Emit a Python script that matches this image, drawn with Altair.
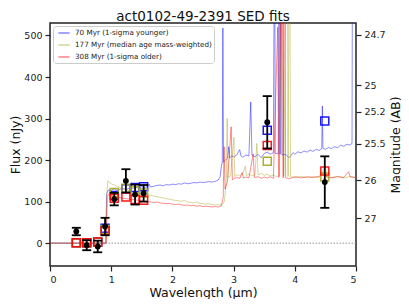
import altair as alt
import pandas as pd

# ---------------- data ----------------
filter_wave = [0.43, 0.60, 0.78, 0.90, 1.05, 1.24, 1.39, 1.53, 3.55, 4.49]
obs_flux = [28, -5, -8, 40, 106, 150, 117, 120, 291, 147]
obs_err = [9, 12, 14, 21, 15, 28, 24, 20, 63, 62]

model_names = ["\u00a070 Myr (1-sigma younger)",
               "177 Myr (median age mass-weighted)",
               "308 Myr (1-sigma older)"]
model_colors = ["#0000ff", "#a6a61e", "#ff0000"]

phot_young = [1, 1, 3, 36, 115, 131, 134, 136, 272, 294]
phot_median = [1, 1, 3, 33, 122, 132, 126, 121, 197, 159]
phot_old = [1, 1, 3, 30, 108, 111, 105, 103, 235, 174]

spec_young_wave = [0.00, 0.91, 0.925, 0.95, 1.00, 1.05, 1.10, 1.15, 1.20, 1.25, 1.30, 1.35,
                   1.40, 1.45, 1.50, 1.55, 1.60, 1.62, 1.64, 1.70, 1.75, 1.80, 1.85, 1.90,
                   1.95, 2.00, 2.05, 2.10, 2.15, 2.20, 2.25, 2.30, 2.35, 2.40, 2.45, 2.50,
                   2.55, 2.60, 2.65, 2.70, 2.75, 2.78, 2.80, 2.815, 2.825, 2.835, 2.87, 2.90,
                   2.92, 2.935, 2.97, 3.00, 3.05, 3.10, 3.12, 3.15, 3.20, 3.25, 3.28, 3.30,
                   3.35, 3.40, 3.45, 3.50, 3.55, 3.60, 3.65, 3.67, 3.68, 3.73, 3.745, 3.76,
                   3.775, 3.79, 3.85, 3.90, 3.93, 3.97, 4.00, 4.05, 4.10, 4.15, 4.20, 4.25,
                   4.30, 4.35, 4.40, 4.44, 4.45, 4.46, 4.50, 4.55, 4.60, 4.65, 4.70, 4.75,
                   4.80, 4.85, 4.90, 4.935, 4.945]
spec_young_flux = [0, 0, 118, 128, 127, 131, 126, 130, 131, 129, 133, 132,
                   134, 133, 136, 134, 137, 142, 135, 137, 139, 140, 138, 141,
                   140, 142, 141, 143, 142, 145, 143, 144, 146, 145, 147, 146,
                   147, 148, 147, 149, 152, 160, 185, 195, 518, 195, 200, 205,
                   232, 205, 210, 208, 212, 225, 210, 207, 212, 210, 340, 212,
                   208, 214, 206, 216, 219, 214, 218, 900, 216, 215, 900, 214,
                   900, 212, 214, 206, 209, 218, 214, 220, 217, 222, 219, 224,
                   221, 226, 223, 228, 330, 228, 226, 230, 228, 232, 230, 236,
                   233, 238, 236, 240, 900]

spec_median_wave = [0.00, 0.915, 0.93, 0.945, 0.97, 1.00, 1.05, 1.10, 1.15, 1.20, 1.25, 1.30,
                    1.35, 1.40, 1.45, 1.50, 1.55, 1.60, 1.65, 1.70, 1.75, 1.80, 1.85, 1.90,
                    1.95, 2.00, 2.05, 2.10, 2.15, 2.20, 2.25, 2.30, 2.35, 2.40, 2.45, 2.50,
                    2.55, 2.60, 2.65, 2.70, 2.75, 2.80, 2.85, 2.88, 2.895, 2.91, 2.95, 3.005,
                    3.02, 3.05, 3.10, 3.15, 3.19, 3.21, 3.25, 3.30, 3.35, 3.38, 3.40, 3.45,
                    3.50, 3.55, 3.60, 3.65, 3.70, 3.75, 3.80, 3.82, 3.875, 3.89, 3.915, 3.93,
                    4.00, 4.10, 4.20, 4.30, 4.40, 4.50, 4.52, 4.60, 4.70, 4.80, 4.90, 5.00]
spec_median_flux = [0, 0, 120, 150, 146, 143, 140, 136, 133, 130, 128, 126,
                    124, 123, 121, 120, 118, 117, 115, 113, 112, 110, 109, 107,
                    106, 104, 103, 102, 101, 103, 99, 98, 97, 99, 96, 95,
                    94, 95, 93, 92, 93, 92, 100, 150, 300, 158, 162, 255,
                    160, 165, 162, 168, 185, 163, 166, 162, 165, 240, 164, 168,
                    163, 166, 162, 164, 160, 163, 900, 162, 900, 160, 900, 160,
                    158, 161, 157, 160, 158, 185, 160, 158, 161, 157, 160, 158]

spec_old_wave = [0.00, 0.92, 0.935, 0.96, 1.00, 1.05, 1.10, 1.15, 1.20, 1.25, 1.30, 1.35,
                 1.40, 1.45, 1.50, 1.55, 1.60, 1.65, 1.70, 1.75, 1.80, 1.85, 1.90, 1.95,
                 2.00, 2.05, 2.10, 2.15, 2.20, 2.25, 2.30, 2.35, 2.40, 2.45, 2.50, 2.55,
                 2.60, 2.65, 2.70, 2.75, 2.80, 2.83, 2.845, 2.86, 2.90, 2.96, 2.98, 3.00,
                 3.05, 3.10, 3.14, 3.16, 3.20, 3.25, 3.32, 3.34, 3.40, 3.45, 3.50, 3.55,
                 3.60, 3.65, 3.72, 3.74, 3.795, 3.81, 3.83, 3.85, 3.90, 3.95, 4.00, 4.10,
                 4.20, 4.30, 4.40, 4.49, 4.51, 4.60, 4.70, 4.80, 4.88, 4.90, 5.00]
spec_old_flux = [0, 0, 112, 118, 115, 113, 111, 110, 108, 107, 106, 105,
                 104, 103, 102, 101, 100, 99, 98, 99, 97, 96, 95, 96,
                 94, 93, 94, 92, 91, 92, 90, 91, 89, 90, 88, 89,
                 88, 87, 88, 87, 90, 110, 232, 130, 148, 280, 152, 155,
                 158, 156, 170, 157, 159, 157, 215, 158, 160, 156, 159, 157,
                 160, 156, 520, 158, 900, 157, 900, 158, 155, 157, 160, 157,
                 160, 158, 161, 172, 160, 157, 160, 158, 172, 160, 158]

mag_ticks = [24.7, 25, 25.2, 25.5, 26, 27]
ZP = 31.45  # AB zero point used for the nJy axis
chart_title = "act0102-49-2391 SED fits"

# ---------------- tables ----------------
spec_rows = []
for name, wv, fl in zip(model_names,
                        [spec_young_wave, spec_median_wave, spec_old_wave],
                        [spec_young_flux, spec_median_flux, spec_old_flux]):
    for i, (w, f) in enumerate(zip(wv, fl)):
        spec_rows.append({"model": name, "wave": w, "flux": f, "i": i})
spec_df = pd.DataFrame(spec_rows)

phot_rows = []
for name, vals in zip(model_names, [phot_young, phot_median, phot_old]):
    for w, f in zip(filter_wave, vals):
        phot_rows.append({"model": name, "wave": w, "flux": f})
phot_df = pd.DataFrame(phot_rows)

obs_df = pd.DataFrame({"wave": filter_wave, "flux": obs_flux, "err": obs_err})
zero_df = pd.DataFrame({"flux": [0]})
title_df = pd.DataFrame({"t": [chart_title]})

tick_flux = [10 ** ((ZP - m) / 2.5) for m in mag_ticks]

# ---------------- scales / axes ----------------
FONT = "DejaVu Sans"
W, H = 306, 243
xscale = alt.Scale(domain=[0, 5], nice=False, zero=False)
yscale = alt.Scale(domain=[-55, 530], nice=False, zero=False)
cscale = alt.Scale(domain=model_names, range=model_colors)

xaxis = alt.Axis(title="Wavelength (\u03bcm)", values=[0, 1, 2, 3, 4, 5], format="d",
                 titleX=W / 2, titleY=26, titleAlign="center", titleBaseline="middle")
yaxis = alt.Axis(title="Flux (nJy)", values=[0, 100, 200, 300, 400, 500], format="d",
                 titleX=-35, titleY=H / 2, titleAngle=270, titleAlign="center",
                 titleBaseline="middle")
raxis = alt.Axis(title="Magnitude (AB)", orient="right", values=tick_flux,
                 labelExpr="format(31.45 - 2.5*log(datum.value)/LN10, '.1~f')",
                 titleX=39, titleY=H / 2, titleAngle=270, titleAlign="center",
                 titleBaseline="middle")

X = alt.X("wave:Q", scale=xscale, axis=xaxis)
Y = alt.Y("flux:Q", scale=yscale, axis=yaxis)

legend = alt.Legend(title=None, orient="none", legendX=3, legendY=3, direction="vertical",
                    symbolType="M-1.4,0H1.4", symbolSize=64, symbolStrokeWidth=1.3,
                    symbolOpacity=0.55, labelFontSize=7.2, labelFont=FONT,
                    labelColor="#222222", padding=2, rowPadding=3, symbolOffset=4,
                    labelOffset=6, fillColor="white", strokeColor="#cccccc",
                    cornerRadius=3, labelLimit=300)

spectra = alt.Chart(spec_df).mark_line(strokeWidth=0.9, opacity=0.5, clip=True).encode(
    x=X, y=Y,
    color=alt.Color("model:N", scale=cscale, legend=legend, sort=model_names),
    order="i:Q",
)

zero = alt.Chart(zero_df).mark_rule(color="#888888", strokeWidth=0.9,
                                    strokeDash=[1.5, 1.5]).encode(y=Y)

squares = alt.Chart(phot_df).mark_point(shape="square", filled=False, size=64,
                                        strokeWidth=1.5, opacity=0.9, clip=True).encode(
    x=X, y=Y, color=alt.Color("model:N", scale=cscale, legend=legend, sort=model_names),
)

obs_base = alt.Chart(obs_df).transform_calculate(
    lo="datum.flux - datum.err", hi="datum.flux + datum.err")

ebar = obs_base.mark_rule(color="black", strokeWidth=1.8).encode(
    x=X, y=alt.Y("lo:Q", scale=yscale, axis=yaxis), y2="hi:Q")
cap_lo = obs_base.mark_tick(color="black", thickness=1.8, size=9, orient="horizontal",
                            opacity=1).encode(x=X, y=alt.Y("lo:Q", scale=yscale, axis=yaxis))
cap_hi = obs_base.mark_tick(color="black", thickness=1.8, size=9, orient="horizontal",
                            opacity=1).encode(x=X, y=alt.Y("hi:Q", scale=yscale, axis=yaxis))
dots = obs_base.mark_circle(color="black", size=34, opacity=1).encode(x=X, y=Y)

main = alt.layer(spectra, zero, squares, ebar, cap_lo, cap_hi, dots)

right = alt.Chart(zero_df).mark_rule(opacity=0).encode(
    y=alt.Y("flux:Q", scale=yscale, axis=raxis))

title_mark = alt.Chart(title_df).mark_text(
    fontSize=13.5, font=FONT, color="#111111", align="center", baseline="alphabetic"
).encode(text="t:N", x=alt.value(W / 2), y=alt.value(-2.5))

chart = alt.layer(main, right, title_mark).resolve_scale(y="independent").properties(
    width=W, height=H,
    autosize=alt.AutoSizeParams(type="none"),
    padding={"left": 42, "top": 15, "right": 45, "bottom": 33},
).configure_view(
    stroke="#222222", strokeWidth=1.5
).configure_axis(
    grid=False, domain=False, labelFont=FONT, labelFontSize=9.5, labelColor="#222222",
    tickColor="#222222", tickSize=5, tickWidth=1.2, labelPadding=3,
    titleFont=FONT, titleFontSize=12.5, titleFontWeight="normal", titleColor="#111111",
)

chart.save("out.html", embed_options={"renderer": "svg", "actions": False})
